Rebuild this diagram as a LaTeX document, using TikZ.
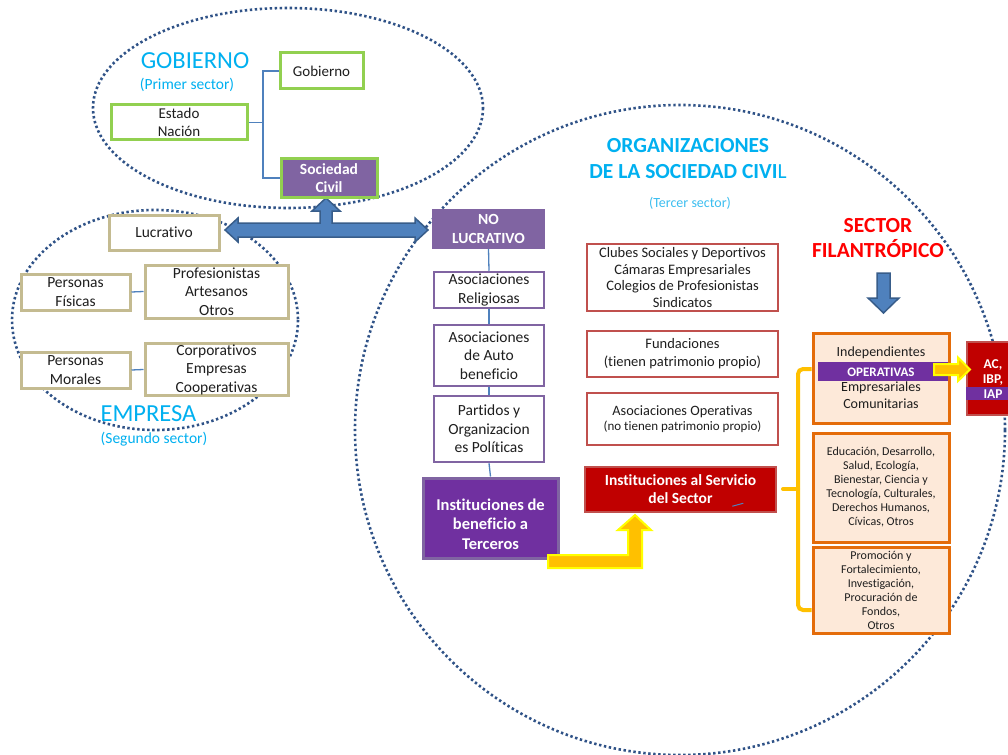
\documentclass[tikz,border=0pt]{standalone}
\usepackage{fontspec}
\setmainfont{Carlito}[Ligatures={NoCommon}]
\usetikzlibrary{calc}
\definecolor{cyanT}{RGB}{0,176,240}
\definecolor{cyanL}{RGB}{60,190,240}
\definecolor{grn}{RGB}{146,208,80}
\definecolor{purM}{RGB}{128,100,162}
\definecolor{purD}{RGB}{112,48,160}
\definecolor{tanB}{RGB}{196,187,145}
\definecolor{lineblue}{RGB}{79,129,189}
\definecolor{arrowB}{RGB}{56,93,138}
\definecolor{dotblue}{RGB}{47,82,135}
\definecolor{redB}{RGB}{192,80,77}
\definecolor{redD}{RGB}{192,0,0}
\definecolor{orgB}{RGB}{228,108,10}
\definecolor{peach}{RGB}{253,233,217}
\definecolor{gold}{RGB}{255,192,0}
\definecolor{yel}{RGB}{255,255,0}
\definecolor{txt}{RGB}{30,30,30}
\definecolor{redT}{RGB}{255,0,0}
\newcommand{\fsz}[2]{\fontsize{#1}{#2}\selectfont}
\begin{document}
\begin{tikzpicture}[x=1pt,y=-1pt,
  box/.style={rectangle, inner sep=0pt, align=center, text=txt},
  gbox/.style={box, draw=grn, line width=3pt, fill=white, font=\fsz{15}{18.3}},
  tbox/.style={box, draw=tanB, line width=3pt, fill=white, font=\fsz{15.5}{18.5}},
  pbox/.style={box, draw=purM, line width=2.5pt, fill=white, font=\fsz{15.5}{18.5}},
  rbox/.style={box, draw=redB, line width=2.5pt, fill=white},
  obox/.style={box, draw=orgB, line width=3pt, fill=peach},
  conn/.style={draw=lineblue, line width=1.3pt},
  dotline/.style={draw=dotblue, line width=2.6pt, dash pattern=on 2.4pt off 2.6pt},
  wtext/.style={text=white, font=\bfseries, align=center, inner sep=0pt},
]
\clip (0,0) rectangle (1008,754);
\fill[white] (0,0) rectangle (1008,754);

% dotted sector ellipses
\draw[dotline] (680,430) circle [radius=325];
\draw[dotline] (288,108) ellipse [x radius=195, y radius=100];
\draw[dotline] (155,320) ellipse [x radius=143, y radius=110];

% titles
\node[text=cyanT, font=\fsz{24.5}{28}] (tgob) at (195,61) {GOBIERNO};
\node[text=cyanT, font=\fsz{15.5}{18}] (tgob2) at (187,85) {(Primer sector)};
\node[text=cyanT, font=\fsz{24.5}{28}] (temp) at (148.5,414) {EMPRESA};
\node[text=cyanT, font=\fsz{15.5}{18}] (temp2) at (154,439) {(Segundo sector)};
\node[text=cyanT, font=\fsz{21.5}{26}, align=center] (tosc) at (688,159) {\bfseries ORGANIZACIONES\\{\bfseries DE LA SOCIEDAD CIVI}L};
\node[text=cyanL, font=\fsz{14}{17}] (tosc2) at (690,203) {(Tercer sector)};
\node[text=redT, font=\fsz{21.5}{25.5}\bfseries, align=center] (tsf) at (878,238) {SECTOR\\FILANTRÓPICO};

% blue block arrow (Lucrativo <-> No lucrativo, up to Sociedad Civil)
\filldraw[fill=lineblue, draw=arrowB, line width=1.5pt, line join=miter]
  (225,230) -- (238,218) -- (238,223) -- (320,223) -- (320,211) -- (312,211)
  -- (326,198) -- (340,211) -- (332,211) -- (332,223) -- (415,223) -- (415,218)
  -- (428,230) -- (415,242) -- (415,237) -- (238,237) -- (238,242) -- cycle;

% down arrow under SECTOR FILANTROPICO
\filldraw[fill=lineblue, draw=arrowB, line width=1.5pt]
  (877,273) -- (890,273) -- (890,298) -- (899,298) -- (883.5,313) -- (868,298) -- (877,298) -- cycle;

% Gobierno boxes
\node[gbox, minimum width=83, minimum height=36] (gobierno) at (321.5,71) {Gobierno};
\node[gbox, minimum width=136, minimum height=35] (estado) at (179,122.5) {Estado\\Nación};
\node[box, draw=grn, fill=purM, line width=3pt, minimum width=96, minimum height=38, text=white, font=\fsz{15.5}{18.3}\bfseries] (socciv) at (329,178) {Sociedad\\Civil};
\coordinate (gj) at (263,122.5);
\draw[conn] (estado.east) -- (gj);
\draw[conn] (gobierno.west) -| (gj) |- (socciv.west);

% Empresa boxes
\node[tbox, minimum width=110, minimum height=35] (lucrativo) at (164,232.5) {Lucrativo};
\node[tbox, minimum width=109, minimum height=36] (pfisicas) at (75.5,292) {Personas\\Físicas};
\node[tbox, minimum width=143, minimum height=53] (profes) at (216.5,291.5) {Profesionistas\\Artesanos\\Otros};
\node[tbox, minimum width=109, minimum height=36] (pmorales) at (75.5,370) {Personas\\Morales};
\node[tbox, minimum width=143, minimum height=52] (corpor) at (216.5,369.5) {Corporativos\\Empresas\\Cooperativas};
\draw[conn] (pfisicas.east) -- (profes.west);
\draw[conn] (pmorales.east) -- (corpor.west);

% No lucrativo column
\node[box, draw=purM, fill=purM, line width=2pt, minimum width=111, minimum height=38, text=white, font=\fsz{15.5}{18.5}\bfseries] (nolucr) at (488.5,229) {NO\\LUCRATIVO};
\node[pbox, minimum width=110, minimum height=36] (relig) at (489,290) {Asociaciones\\Religiosas};
\node[pbox, minimum width=110, minimum height=61] (auto) at (489,355.5) {Asociaciones\\de Auto\\beneficio};
\node[pbox, minimum width=110, minimum height=66] (partidos) at (489,429) {Partidos y\\Organizacion\\es Políticas};
\node[box, draw=purM, fill=purD, line width=3pt, minimum width=135, minimum height=80] (terceros) at (490.5,518) {};
\node[wtext, font=\fsz{16.5}{19.5}\bfseries] (tterceros) at ($(terceros.center)+(0,6)$) {Instituciones de\\beneficio a\\Terceros};
\draw[conn] (nolucr.south) -- (relig.north);
\draw[conn] (relig.south) -- (auto.north);
\draw[conn] (auto.south) -- (partidos.north);
\draw[conn] (partidos.south) -- (terceros.north);

% Red column
\node[rbox, minimum width=191, minimum height=67, font=\fsz{14.5}{16.5}] (clubes) at (682.5,277.5) {Clubes Sociales y Deportivos\\Cámaras Empresariales\\Colegios de Profesionistas\\Sindicatos};
\node[rbox, minimum width=191, minimum height=46, font=\fsz{14.5}{18}] (fund) at (682.5,354) {Fundaciones\\(tienen patrimonio propio)};
\node[rbox, minimum width=191, minimum height=52, font=\fsz{14.3}{15.5}] (asocop) at (682.5,419) {Asociaciones Operativas\\{\fsz{13}{15}(no tienen patrimonio propio)}};
\node[box, draw=redB, fill=redD, line width=2.5pt, minimum width=191, minimum height=45, text=white, font=\fsz{15.5}{18}\bfseries] (servicio) at (680.5,489.5) {Instituciones al Servicio\\del Sector};
\draw[conn, line width=1pt] ($(servicio.south east)+(-45,-7)$) -- ($(servicio.south east)+(-34,-10)$);

% yellow L arrow
\filldraw[fill=gold, draw=yel, line width=2pt, line join=miter]
  (548,555) -- (628,555) -- (628,530) -- (618,530) -- (635,515) -- (651,530)
  -- (642,530) -- (642,568) -- (548,568) -- cycle;

% right column
\node[obox, minimum width=136, minimum height=90] (indep) at (881,378) {};
\fill[purD] (818,362) rectangle (948,381);
\node[box, font=\fsz{14}{16.5}] (tind) at (881,353) {Independientes};
\node[wtext, font=\fsz{13}{15}\bfseries] (toper) at (881,372) {OPERATIVAS};
\node[box, font=\fsz{14}{16.5}] (temprs) at (881,395) {Empresariales\\Comunitarias};
\node[obox, minimum width=136, minimum height=109, font=\fsz{12}{14}] (educ) at (881,487.5) {Educación, Desarrollo,\\Salud, Ecología,\\Bienestar, Ciencia y\\Tecnología, Culturales,\\Derechos Humanos,\\Cívicas, Otros};
\node[obox, minimum width=136, minimum height=86, font=\fsz{12}{14}] (promo) at (881,590) {Promoción y\\Fortalecimiento,\\Investigación,\\Procuración de\\Fondos,\\Otros};

% AC / IBP / IAP box
\node[box, draw=redB, fill=redD, line width=2.5pt, minimum width=52, minimum height=73] (ac) at (993,378.5) {};
\fill[purD] (966,387) rectangle (1010,399.5);
\node[wtext, font=\fsz{13.5}{15}\bfseries] (tac) at (993,372) {AC,\\IBP,};
\node[wtext, font=\fsz{13.5}{15}\bfseries] (tiap) at (993,394) {IAP};

% yellow arrow to AC box
\filldraw[fill=gold, draw=yel, line width=2pt, line join=miter]
  (934,364) -- (958,364) -- (958,357.5) -- (970,369.5) -- (958,381) -- (958,375) -- (934,375) -- cycle;

% gold brace
\draw[gold, line width=4pt, rounded corners=5pt] ($(indep.west)+(0,-9)$) -- (798,369) -- (798,610) -- ($(promo.west)+(0,20)$);
\draw[gold, line width=4pt, line cap=round] (783,489) -- (798,489);
\end{tikzpicture}
\end{document}
